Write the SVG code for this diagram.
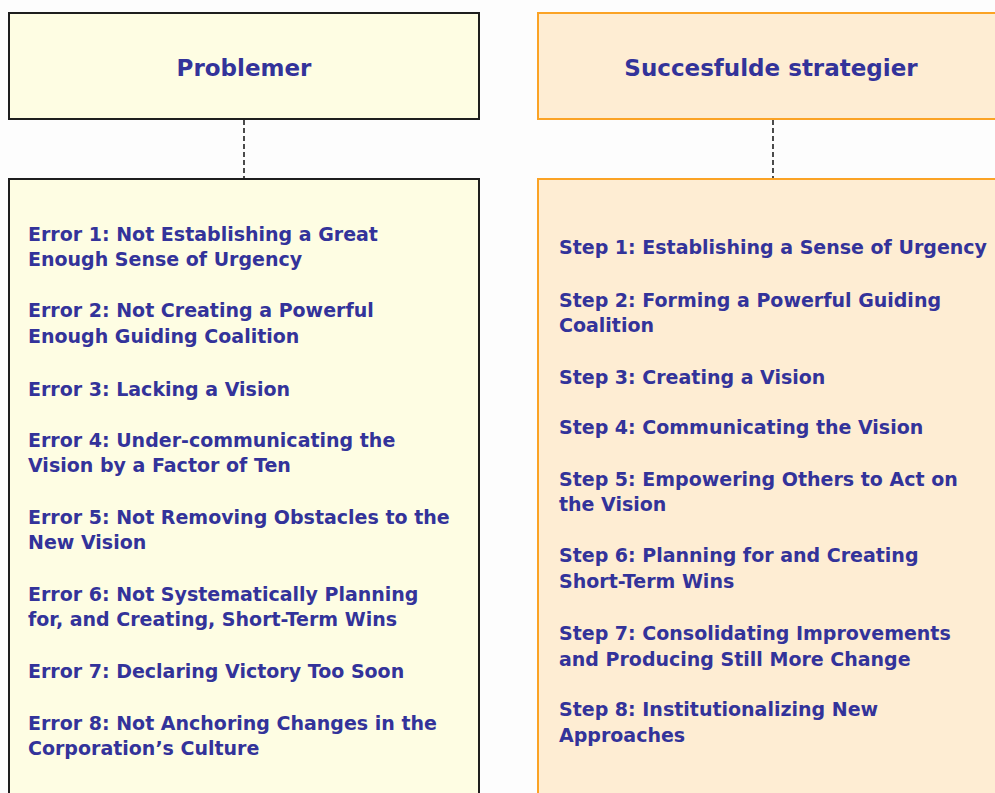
<svg xmlns="http://www.w3.org/2000/svg" width="995" height="793" viewBox="0 0 995 793">
  <style>
    .prob { fill: #FEFDE3; stroke: #1E1E1E; stroke-width: 2; }
    .strat { fill: #FEEDD3; stroke: #FBA325; stroke-width: 2; }
    .title { font-family: "DejaVu Sans", Verdana, sans-serif; font-weight: bold; font-size: 23px; fill: #33339A; text-anchor: middle; }
    .item { font-family: "DejaVu Sans", Verdana, sans-serif; font-weight: bold; font-size: 19px; fill: #33339A; }
    .link { stroke: #1E1E1E; stroke-width: 1.6; stroke-dasharray: 5 3; fill: none; }
  </style>
  <rect x="0" y="0" width="995" height="793" fill="#FDFDFD"/>

  <!-- connectors between header and list boxes -->
  <g id="connectors">
    <line class="link" x1="244" y1="120" x2="244" y2="178"/>
    <line class="link" x1="773" y1="120" x2="773" y2="178"/>
  </g>

  <g id="problemer-header">
    <rect class="prob" x="9" y="13" width="470" height="106"/>
    <text class="title" x="244" y="76">Problemer</text>
  </g>

  <g id="problemer-list">
    <rect class="prob" x="9" y="179" width="470" height="640"/>
    <text class="item" x="28" y="241">Error 1: Not Establishing a Great</text>
    <text class="item" x="28" y="266">Enough Sense of Urgency</text>
    <text class="item" x="28" y="317">Error 2: Not Creating a Powerful</text>
    <text class="item" x="28" y="343">Enough Guiding Coalition</text>
    <text class="item" x="28" y="396">Error 3: Lacking a Vision</text>
    <text class="item" x="28" y="447">Error 4: Under-communicating the</text>
    <text class="item" x="28" y="472">Vision by a Factor of Ten</text>
    <text class="item" x="28" y="524">Error 5: Not Removing Obstacles to the</text>
    <text class="item" x="28" y="549">New Vision</text>
    <text class="item" x="28" y="601">Error 6: Not Systematically Planning</text>
    <text class="item" x="28" y="626">for, and Creating, Short-Term Wins</text>
    <text class="item" x="28" y="678">Error 7: Declaring Victory Too Soon</text>
    <text class="item" x="28" y="730">Error 8: Not Anchoring Changes in the</text>
    <text class="item" x="28" y="755">Corporation’s Culture</text>
  </g>

  <g id="strategier-header">
    <rect class="strat" x="538" y="13" width="470" height="106"/>
    <text class="title" x="771" y="76">Succesfulde strategier</text>
  </g>

  <g id="strategier-list">
    <rect class="strat" x="538" y="179" width="470" height="640"/>
    <text class="item" x="559" y="254">Step 1: Establishing a Sense of Urgency</text>
    <text class="item" x="559" y="307">Step 2: Forming a Powerful Guiding</text>
    <text class="item" x="559" y="332">Coalition</text>
    <text class="item" x="559" y="384">Step 3: Creating a Vision</text>
    <text class="item" x="559" y="434">Step 4: Communicating the Vision</text>
    <text class="item" x="559" y="486">Step 5: Empowering Others to Act on</text>
    <text class="item" x="559" y="511">the Vision</text>
    <text class="item" x="559" y="562">Step 6: Planning for and Creating</text>
    <text class="item" x="559" y="588">Short-Term Wins</text>
    <text class="item" x="559" y="640">Step 7: Consolidating Improvements</text>
    <text class="item" x="559" y="666">and Producing Still More Change</text>
    <text class="item" x="559" y="716">Step 8: Institutionalizing New</text>
    <text class="item" x="559" y="742">Approaches</text>
  </g>
</svg>
